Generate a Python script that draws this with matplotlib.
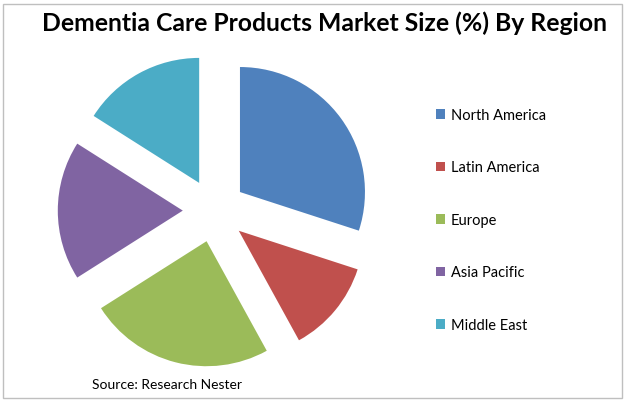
import matplotlib
matplotlib.use("Agg")
import matplotlib.pyplot as plt
from matplotlib.patches import Rectangle

# Data
regions = ["North America", "Latin America", "Europe", "Asia Pacific", "Middle East"]
shares = [30, 12, 24, 18, 16]
colors = ["#4F81BD", "#C0504D", "#9BBB59", "#8064A2", "#4BACC6"]
title = "Dementia Care Products Market Size (%) By Region"
source = "Source: Research Nester"

W, H = 627, 402
fig = plt.figure(figsize=(W / 100, H / 100), dpi=100)
ax = fig.add_axes([0, 0, 1, 1])

wedges, _ = ax.pie(
    shares,
    colors=colors,
    startangle=90,
    counterclock=False,
    explode=[31.6] * len(shares),
    radius=125,
    center=(214.4, H - 211.6),
    wedgeprops=dict(linewidth=0),
    frame=True,
)
ax.set_xlim(0, W)
ax.set_ylim(0, H)
ax.set_aspect("equal")
ax.axis("off")

# Border
fig.patches.append(Rectangle((3, 3), 619, 394, transform=None, fill=False,
                             edgecolor="#BFBFBF", linewidth=1))

ax.text(325, H - 23, title, ha="center", va="center", fontsize=17.8,
        fontweight="bold", family="Lato", color="black")
ax.text(167, H - 385, source, ha="center", va="center", fontsize=10,
        family="Lato", color="#000000")

leg = ax.legend(wedges, regions, loc="upper left",
                bbox_to_anchor=(436 / W, 1 - 109 / H), bbox_transform=fig.transFigure,
                frameon=False, borderpad=0, borderaxespad=0,
                prop=dict(family="Lato", size=10.5),
                handlelength=0.62, handleheight=0.62, handletextpad=0.38,
                labelspacing=2.64)

fig.savefig("out.png", dpi=100)
